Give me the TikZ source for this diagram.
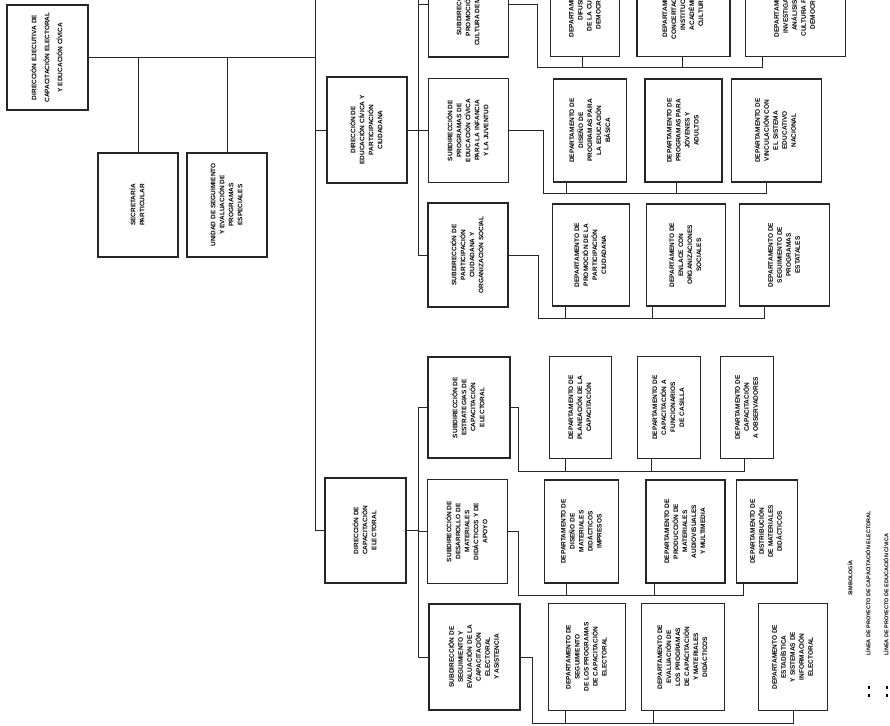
\documentclass[tikz,border=0pt]{standalone}
\usepackage{fontspec}
\setmainfont{Liberation Sans}
\usepackage{graphicx}
\usepackage{tikz}
\usetikzlibrary{positioning, calc}

% rotated label, lines read bottom to top
\newcommand{\vlab}[1]{\rotatebox{90}{\begin{tabular}{@{}c@{}}#1\end{tabular}}}

\begin{document}
\begin{tikzpicture}[x=1pt, y=-1pt,
  box/.style={draw=black!85, line width=1.2pt, fill=white, inner sep=0pt, align=center, font=\fontsize{6.5}{9}\selectfont\bfseries},
  org/.style={box, minimum width=80pt, minimum height=104pt},
  dept/.style={box, minimum height=103pt},
  legtext/.style={inner sep=0pt, font=\fontsize{5.5}{7}\selectfont\bfseries},
  link/.style={draw=black!85, line width=1pt}
]

  \useasboundingbox (0,0) rectangle (890,725);
  \clip (0,0) rectangle (890,725);
  \fill[white] (0,0) rectangle (890,725);

  % Direccion ejecutiva y apoyo
  \node[org, minimum width=81pt, minimum height=105pt] (root) at (47.5,57.5) {\vlab{DIRECCIÓN EJECUTIVA DE\\[4pt]CAPACITACIÓN ELECTORAL\\[4pt]Y EDUCACIÓN CÍVICA}};
  \node[org] (sec) at (138,205) {\vlab{SECRETARÍA\\PARTICULAR}};
  \node[org] (unit) at (227,205) {\vlab{UNIDAD DE SEGUIMIENTO\\Y EVALUACIÓN DE\\PROGRAMAS\\ESPECIALES}};

  % Direcciones
  \node[org, minimum height=106pt] (dirA) at (367,130) {\vlab{DIRECCIÓN DE\\EDUCACIÓN CÍVICA Y\\PARTICIPACIÓN\\CIUDADANA}};
  \node[org, minimum width=81pt, minimum height=105pt] (dirB) at (365.5,530.5) {\vlab{DIRECCIÓN DE\\CAPACITACIÓN\\ELECTORAL}};

  % Subdirecciones
  \node[org] (s1) at (468.5,5) {\vlab{SUBDIRECCIÓN DE\\PROMOCIÓN DE LA\\CULTURA DEMOCRÁTICA}};
  \node[org] (s2) at (468.5,130.5) {\vlab{SUBDIRECCIÓN DE\\PROGRAMAS DE\\EDUCACIÓN CÍVICA\\PARA LA INFANCIA\\Y LA JUVENTUD}};
  \node[org] (s3) at (468,255) {\vlab{SUBDIRECCIÓN DE\\PARTICIPACIÓN\\CIUDADANA Y\\ORGANIZACIÓN SOCIAL}};
  \node[org, minimum width=82pt, minimum height=101pt] (s4) at (469,407.5) {\vlab{SUBDIRECCIÓN DE\\ESTRATEGIAS DE\\CAPACITACIÓN\\ELECTORAL}};
  \node[org] (s5) at (467.5,531.5) {\vlab{SUBDIRECCIÓN DE\\DESARROLLO DE\\MATERIALES\\DIDÁCTICOS Y DE\\APOYO}};
  \node[org, minimum width=91pt, minimum height=106pt] (s6) at (474.5,657) {\vlab{SUBDIRECCIÓN DE\\SEGUIMIENTO Y\\EVALUACIÓN DE LA\\CAPACITACIÓN\\ELECTORAL\\Y ASISTENCIA}};

  % Departamentos
  \node[dept, minimum width=69pt, right=41pt of s1] (d11) {\vlab{DEPARTAMENTO DE\\DIFUSIÓN\\DE LA CULTURA\\DEMOCRÁTICA}};
  \node[dept, minimum width=93pt, right=16pt of d11] (d12) {\vlab{DEPARTAMENTO DE\\CONCERTACIÓN CON\\INSTITUCIONES\\ACADÉMICAS Y\\CULTURALES}};
  \node[dept, minimum width=100pt, right=14pt of d12] (d13) {\vlab{DEPARTAMENTO DE\\INVESTIGACIÓN Y\\ANÁLISIS DE LA\\CULTURA POLÍTICA\\DEMOCRÁTICA}};

  \node[dept, minimum width=73pt, right=44pt of s2] (d21) {\vlab{DEPARTAMENTO DE\\DISEÑO DE\\PROGRAMAS PARA\\LA EDUCACIÓN\\BÁSICA}};
  \node[dept, minimum width=77pt, right=17pt of d21] (d22) {\vlab{DEPARTAMENTO DE\\PROGRAMAS PARA\\JÓVENES Y\\ADULTOS}};
  \node[dept, minimum width=90pt, right=8pt of d22] (d23) {\vlab{DEPARTAMENTO DE\\VINCULACIÓN CON\\EL SISTEMA\\EDUCATIVO\\NACIONAL}};

  \node[dept, minimum width=77pt, minimum height=102pt, right=43pt of s3] (d31) {\vlab{DEPARTAMENTO DE\\PROMOCIÓN DE LA\\PARTICIPACIÓN\\CIUDADANA}};
  \node[dept, minimum width=79pt, minimum height=102pt, right=16pt of d31] (d32) {\vlab{DEPARTAMENTO DE\\ENLACE CON\\ORGANIZACIONES\\SOCIALES}};
  \node[dept, minimum width=90pt, minimum height=102pt, right=13pt of d32] (d33) {\vlab{DEPARTAMENTO DE\\SEGUIMIENTO DE\\PROGRAMAS\\ESTATALES}};

  \node[dept, minimum width=62pt, minimum height=102pt, right=38pt of s4] (d41) {\vlab{DEPARTAMENTO DE\\PLANEACIÓN DE LA\\CAPACITACIÓN}};
  \node[dept, minimum width=63pt, minimum height=102pt, right=25pt of d41] (d42) {\vlab{DEPARTAMENTO DE\\CAPACITACIÓN A\\FUNCIONARIOS\\DE CASILLA}};
  \node[dept, minimum width=53pt, minimum height=102pt, right=19pt of d42] (d43) {\vlab{DEPARTAMENTO DE\\CAPACITACIÓN\\A OBSERVADORES}};

  \node[dept, minimum width=74pt, right=36pt of s5] (d51) {\vlab{DEPARTAMENTO DE\\DISEÑO DE\\MATERIALES\\DIDÁCTICOS\\IMPRESOS}};
  \node[dept, minimum width=79pt, right=26pt of d51] (d52) {\vlab{DEPARTAMENTO DE\\PRODUCCIÓN DE\\MATERIALES\\AUDIOVISUALES\\Y MULTIMEDIA}};
  \node[dept, minimum width=61pt, right=10pt of d52] (d53) {\vlab{DEPARTAMENTO DE\\DISTRIBUCIÓN\\DE MATERIALES\\DIDÁCTICOS}};

  \node[dept, minimum width=77pt, minimum height=107pt, right=27pt of s6] (d61) {\vlab{DEPARTAMENTO DE\\SEGUIMIENTO\\DE LOS PROGRAMAS\\DE CAPACITACIÓN\\ELECTORAL}};
  \node[dept, minimum width=83pt, minimum height=107pt, right=15pt of d61] (d62) {\vlab{DEPARTAMENTO DE\\EVALUACIÓN DE\\LOS PROGRAMAS\\DE CAPACITACIÓN\\Y MATERIALES\\DIDÁCTICOS}};
  \node[dept, minimum width=69pt, minimum height=107pt, right=33pt of d62] (d63) {\vlab{DEPARTAMENTO DE\\ESTADÍSTICA\\Y SISTEMAS DE\\INFORMACIÓN\\ELECTORAL}};

  % Simbologia
  \node[legtext, anchor=center] (simb) at (850,578) {\rotatebox{90}{SIMBOLOGÍA}};
  \node[legtext, anchor=south] (leg1) at (868,697) {\rotatebox{90}{\rule{3pt}{2.5pt}\hspace{5pt}\rule{3pt}{2.5pt}\hspace{30pt}LÍNEA DE PROYECTO DE CAPACITACIÓN ELECTORAL}};
  \node[legtext, anchor=south] (leg2) at (886,697) {\rotatebox{90}{\rule{3pt}{2.5pt}\hspace{5pt}\rule{3pt}{2.5pt}\hspace{30pt}LÍNEA DE PROYECTO DE EDUCACIÓN CÍVICA}};

  % Tronco principal
  \coordinate (trunk) at (315,-5);
  \draw[link] (root.east) -- (root.east -| trunk);
  \draw[link] (sec.north) -- (sec.north |- root.east);
  \draw[link] (unit.north) -- (unit.north |- root.east);
  \draw[link] (trunk) |- (dirB.west);
  \draw[link] (dirA.west) -- (dirA.west -| trunk);

  % Subdirecciones
  \coordinate (spine) at (418,-5);
  \draw[link] (spine) |- (s3.west);
  \draw[link] (s1.west -| spine) -- (s1.west);
  \draw[link] (s2.west -| spine) -- (s2.west);
  \draw[link] (dirA.east) -- (dirA.east -| spine);
  \draw[link] (s4.west -| spine) |- (s6.west);
  \draw[link] (s4.west -| spine) -- (s4.west);
  \draw[link] (s5.west -| spine) -- (s5.west);
  \draw[link] (dirB.east) -- (dirB.east -| spine);

  % Departamentos
  \draw[link] (s1.east) -| ($(d11.south west)+(-13,10)$) -- ($(d13.south west)+(18,10)$) -- ++(0,-10);
  \draw[link] ($(d11.south west)+(32,0)$) -- ++(0,10);
  \draw[link] ($(d12.south west)+(46,0)$) -- ++(0,10);

  \draw[link] (s2.east) -| ($(d21.south west)+(-10,11)$) -- ($(d23.south west)+(36,11)$) -- ++(0,-11);
  \draw[link] ($(d21.south west)+(13,0)$) -- ++(0,11);
  \draw[link] ($(d22.south west)+(32,0)$) -- ++(0,11);

  \draw[link] (s3.east) -| ($(d31.south west)+(-13,12)$) -- ($(d33.south west)+(25,12)$) -- ++(0,-12);
  \draw[link] ($(d31.south west)+(14,0)$) -- ++(0,12);
  \draw[link] ($(d32.south west)+(7,0)$) -- ++(0,12);

  \draw[link] (s4.east) -| ($(d41.south west)+(-30,12)$) -- ($(d43.south west)+(24,12)$) -- ++(0,-12);
  \draw[link] ($(d41.south west)+(17,0)$) -- ++(0,12);
  \draw[link] ($(d42.south west)+(15,0)$) -- ++(0,12);

  \draw[link] (s5.east) -| ($(d51.south west)+(-26,12)$) -- ($(d53.south west)+(8,12)$) -- ++(0,-12);
  \draw[link] ($(d51.south west)+(22,0)$) -- ++(0,12);
  \draw[link] ($(d52.south west)+(9,0)$) -- ++(0,12);

  \draw[link] (s6.east) -| ($(d61.south west)+(-15,12)$) -- ($(d63.south west)+(35,12)$) -- ++(0,-12);
  \draw[link] ($(d61.south west)+(18,0)$) -- ++(0,12);
  \draw[link] ($(d62.south west)+(13,0)$) -- ++(0,12);

\end{tikzpicture}
\end{document}
